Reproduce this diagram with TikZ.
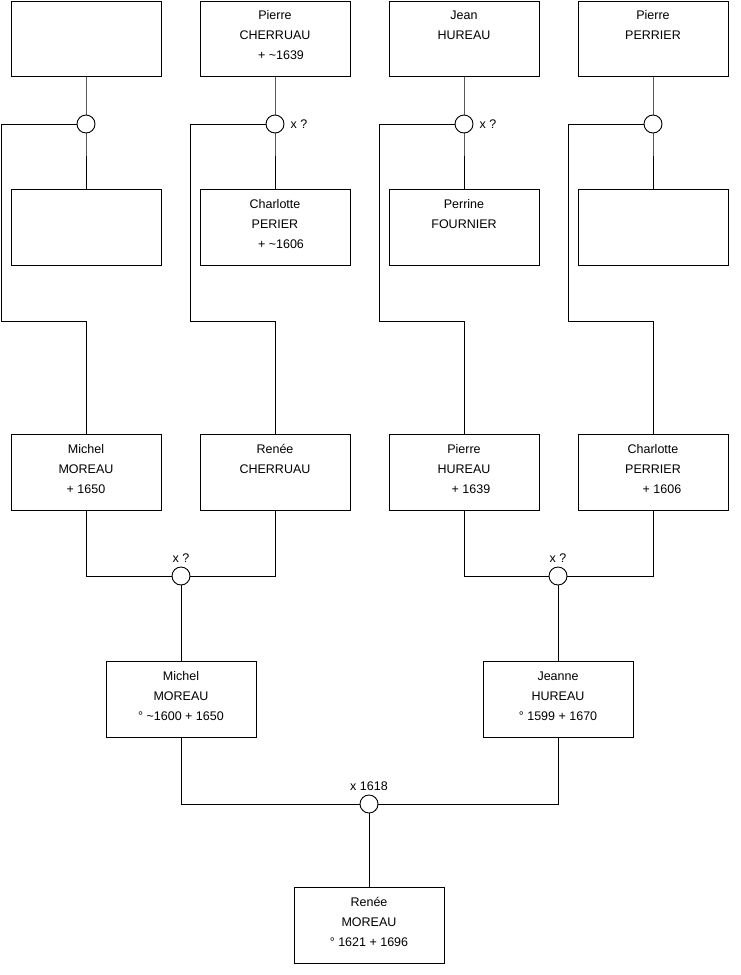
\documentclass[tikz,border=0pt]{standalone}
\usepackage{fontspec}
\setmainfont{Liberation Sans}
\newcommand\myfont{\fontsize{12.5pt}{20pt}\selectfont}
\newcommand\fl{\rule{0pt}{9.2pt}}
\begin{document}
\begin{tikzpicture}[x=1pt,y=-1pt,
  box/.style={draw, line width=0.9pt, minimum width=150pt, minimum height=76pt, inner sep=0pt},
  topbox/.style={box, minimum height=75pt},
  txt/.style={anchor=north, yshift=-10.8pt, align=center, font=\myfont, inner sep=0pt},
  ttxt/.style={txt, yshift=1.5pt},
  ring/.style={circle, draw, fill=white, minimum size=18pt, inner sep=0pt, line width=0.9pt},
  conn/.style={line width=0.9pt},
  mlabel/.style={font=\myfont, inner sep=0pt}]
\useasboundingbox (0,0) rectangle (740,975);
% row 1
\node[topbox] (b1) at (86,38.5) {};
\node[topbox,label={[ttxt]north:{\fl Pierre\\CHERRUAU\\\hspace*{12pt}+ \textasciitilde1639}}] (b2) at (275,38.5) {};
\node[topbox,label={[ttxt]north:{\fl Jean\\HUREAU}}] (b3) at (464,38.5) {};
\node[topbox,label={[ttxt]north:{\fl Pierre\\PERRIER}}] (b4) at (653,38.5) {};
% row 2
\node[box] (b5) at (86,227) {};
\node[box,label={[txt]north:{\fl Charlotte\\PERIER\\\hspace*{12pt}+ \textasciitilde1606}}] (b6) at (275,227) {};
\node[box,label={[txt]north:{\fl Perrine\\FOURNIER}}] (b7) at (464,227) {};
\node[box] (b8) at (653,227) {};
% row 3
\node[box,label={[txt]north:{\fl Michel\\MOREAU\\+ 1650}}] (b9) at (86,472) {};
\node[box,label={[txt]north:{\fl Renée\\CHERRUAU}}] (b10) at (275,472) {};
\node[box,label={[txt]north:{\fl Pierre\\HUREAU\\\hspace*{14pt}+ 1639}}] (b11) at (464,472) {};
\node[box,label={[txt]north:{\fl Charlotte\\PERRIER\\\hspace*{18pt}+ 1606}}] (b12) at (653,472) {};
% row 4
\node[box,label={[txt]north:{\fl Michel\\MOREAU\\° \textasciitilde1600 + 1650}}] (b13) at (181,699) {};
\node[box,label={[txt]north:{\fl Jeanne\\HUREAU\\° 1599 + 1670}}] (b14) at (558,699) {};
% row 5
\node[box,label={[txt]north:{\fl Renée\\MOREAU\\° 1621 + 1696}}] (b15) at (369,925) {};
% helper coordinates
\coordinate (p1) at (1,124);   \coordinate (q1) at (1,321);   \coordinate (r1) at (86,321);
\coordinate (p2) at (190,124); \coordinate (q2) at (190,321); \coordinate (r2) at (275,321);
\coordinate (p3) at (379,124); \coordinate (q3) at (379,321); \coordinate (r3) at (464,321);
\coordinate (p4) at (568,124); \coordinate (q4) at (568,321); \coordinate (r4) at (653,321);
\coordinate (s1) at (86,576);  \coordinate (s2) at (275,576);
\coordinate (s3) at (464,576); \coordinate (s4) at (653,576);
\coordinate (t1) at (181,804); \coordinate (t2) at (558,804);
% connectors
\draw[conn] (b1.south) -- (86,124) -- (b5.north);
\draw[conn] (b2.south) -- (275,124) -- (b6.north);
\draw[conn] (b3.south) -- (464,124) -- (b7.north);
\draw[conn] (b4.south) -- (653,124) -- (b8.north);
\draw[conn] (86,124) -- (p1) -- (q1) -- (r1) -- (b9.north);
\draw[conn] (275,124) -- (p2) -- (q2) -- (r2) -- (b10.north);
\draw[conn] (464,124) -- (p3) -- (q3) -- (r3) -- (b11.north);
\draw[conn] (653,124) -- (p4) -- (q4) -- (r4) -- (b12.north);
\draw[conn] (b9.south) -- (s1) -- (s2) -- (b10.south);
\draw[conn] (181,576) -- (b13.north);
\draw[conn] (b11.south) -- (s3) -- (s4) -- (b12.south);
\draw[conn] (558,576) -- (b14.north);
\draw[conn] (b13.south) -- (t1) -- (t2) -- (b14.south);
\draw[conn] (369,804) -- (b15.north);
% circles
\node[ring] (c1) at (86,124) {};
\node[ring,label={[mlabel,label distance=6pt]right:x ?}] (c2) at (275,124) {};
\node[ring,label={[mlabel,label distance=6pt]right:x ?}] (c3) at (464,124) {};
\node[ring] (c4) at (653,124) {};
\node[ring,label={[mlabel,label distance=4pt]above:x ?}] (c5) at (181,576) {};
\node[ring,label={[mlabel,label distance=4pt]above:x ?}] (c6) at (558,576) {};
\node[ring,label={[mlabel,label distance=4pt]above:x 1618}] (c7) at (369,804) {};
\end{tikzpicture}
\end{document}
